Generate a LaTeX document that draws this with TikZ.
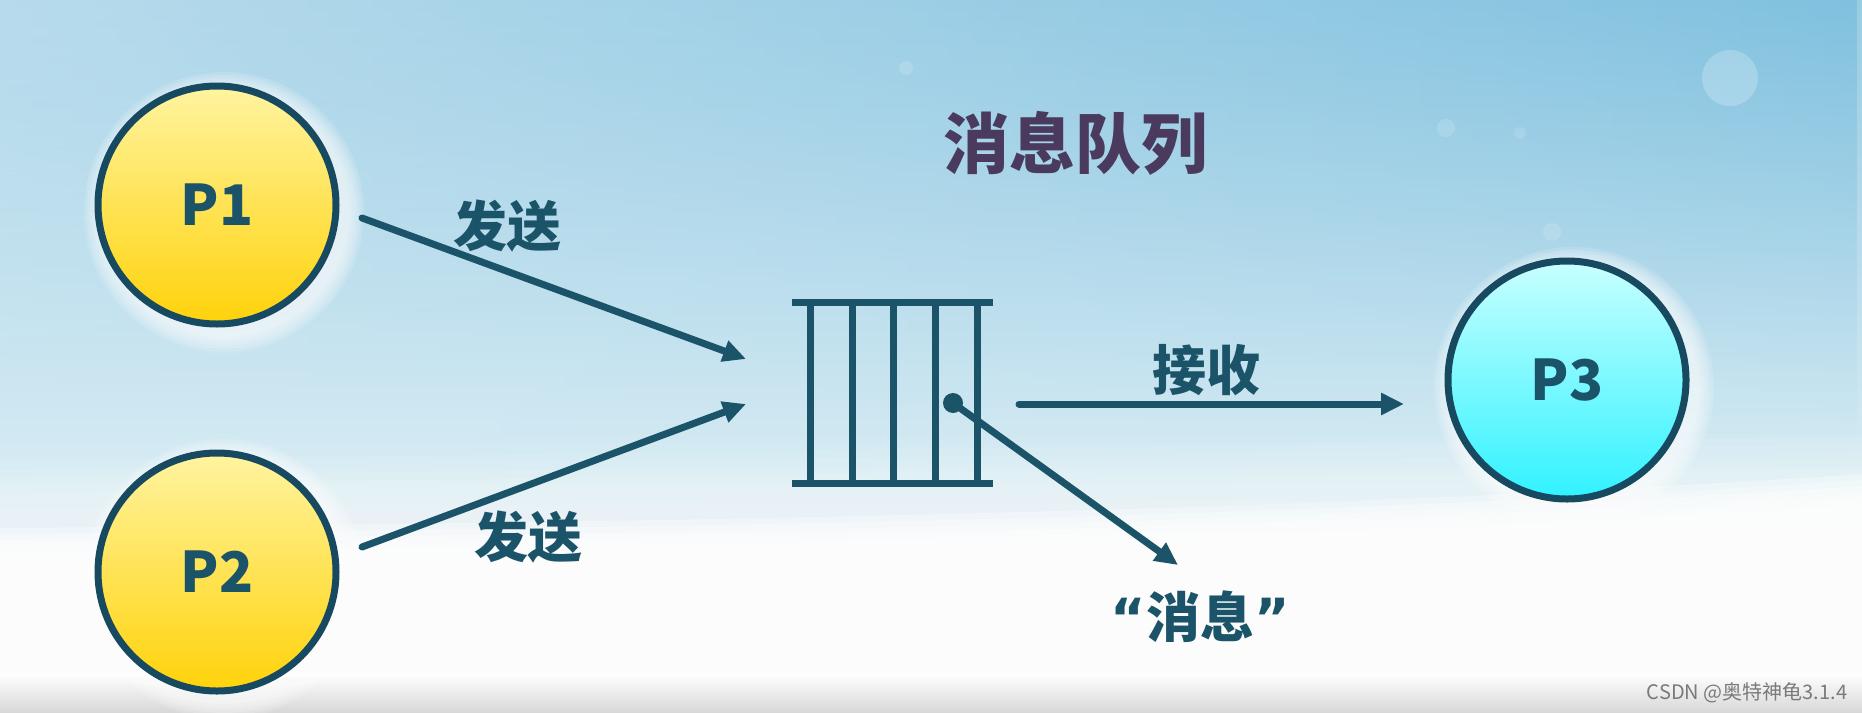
\documentclass[tikz,border=0pt]{standalone}
\usepackage{fontspec}
\setmainfont{Noto Sans CJK SC}
\newfontfamily\qfont{DejaVu Sans}
\usetikzlibrary{arrows.meta,shapes.geometric,fadings}
\definecolor{ink}{HTML}{1B5468}
\definecolor{rim}{HTML}{174A60}
\definecolor{titlec}{HTML}{4A3A5E}
\definecolor{ytop}{HTML}{FFF4A0}
\definecolor{ybot}{HTML}{FFD20A}
\definecolor{ctop}{HTML}{C8FFFF}
\definecolor{cbot}{HTML}{30F2FF}
\definecolor{bgA}{HTML}{D8D8D8}
\definecolor{bgB}{HTML}{EAF5F9}
\definecolor{bgC}{HTML}{D0E8F2}
\definecolor{bgD}{HTML}{A0D0E6}
\definecolor{bgE}{HTML}{72B8D8}
\definecolor{tintR}{HTML}{4AA8D4}
\definecolor{wm}{HTML}{7A7A7A}
\pgfdeclareverticalshading{skybg}{100bp}{color(0bp)=(bgA); color(5.5bp)=(white); color(24bp)=(white); color(34bp)=(bgB); color(45bp)=(bgC); color(70bp)=(bgD); color(100bp)=(bgE)}
\tikzfading[name=fadedown, top color=transparent!0, bottom color=transparent!100]
\tikzset{
  proc/.style={circle, draw=rim, line width=7pt, minimum size=238pt, inner sep=0pt,
    text=ink, font=\fontsize{56}{60}\selectfont\bfseries},
  lbl/.style={text=ink, inner sep=0pt, font=\fontsize{54}{60}\selectfont\bfseries},
  arr/.style={draw=ink, line width=7pt, line cap=round, -{Triangle[length=23pt,width=21pt]}},
  qline/.style={draw=ink, line width=7pt},
}
\begin{document}
\begin{tikzpicture}[x=1pt,y=-1pt]
\useasboundingbox (0,0) rectangle (1862,712);
% background
\shade[shading=skybg] (0,0) rectangle (1862,712);
\shade[left color=white, right color=tintR, opacity=0.3, path fading=fadedown] (0,0) rectangle (1862,440);
\foreach \d in {0,8,...,56}{
  \fill[white, opacity=0.07] (0,462+\d) .. controls (600,452+\d) and (1300,444+\d) .. (1862,436+\d) -- (1862,712) -- (0,712) -- cycle;
}
\foreach \d in {0,6,...,30}{
  \fill[white, opacity=0.3] (0,528+\d) .. controls (700,522+\d) and (1300,512+\d) .. (1862,474+\d) -- (1862,712) -- (0,712) -- cycle;
}
\shade[top color=white, bottom color=bgA] (0,673) rectangle (1862,712);
% bokeh
\fill[white, opacity=0.22] (1730,78) circle (28);
\fill[white, opacity=0.15] (906,68) circle (7);
\fill[white, opacity=0.15] (1446,128) circle (9);
\fill[white, opacity=0.12] (1520,133) circle (6);
\fill[white, opacity=0.15] (1552,232) circle (9);
% halos
\foreach \cx/\cy in {217/205, 217/572, 1567/380}{
  \foreach \k in {1,...,6}{
    \fill[white, opacity=0.15] (\cx+7,\cy+7) circle (122+3*\k);
  }
}
% title
\node[text=titlec, inner sep=0pt, font=\fontsize{66}{70}\selectfont\bfseries] (title) at (1075,143) {消息队列};
% processes
\node[proc, top color=ytop, bottom color=ybot] (p1) at (217,205) {P1};
\node[proc, top color=ytop, bottom color=ybot] (p2) at (217,572) {P2};
\node[proc, top color=ctop, bottom color=cbot] (p3) at (1567,380) {P3};
% queue
\node[inner sep=0pt, minimum width=201pt, minimum height=181pt] (q) at (892.5,392.5) {};
\draw[qline] (792,302) -- (993,302);
\draw[qline] (792,483) -- (993,483);
\foreach \x in {810,852,893,935,977}{
  \draw[qline] (\x,302) -- (\x,483);
}
\node[circle, fill=ink, minimum size=20pt, inner sep=0pt] (dot) at (953,403) {};
% connectors
\coordinate (s1) at (362,218);
\coordinate (e1) at (746,359);
\coordinate (s2) at (362,547);
\coordinate (e2) at (746,404);
\coordinate (rs) at (1019,404);
\coordinate (re) at (1404,404);
\coordinate (me) at (1178,565);
\draw[arr] (s1) -- (e1);
\draw[arr] (s2) -- (e2);
\draw[arr] (rs) -- (re);
\draw[arr] (dot.center) -- (me);
% labels
\node[lbl] (l1) at (507,226) {发送};
\node[lbl] (l2) at (528,537) {发送};
\node[lbl] (l3) at (1206,370) {接收};
\node[lbl] (l4) at (1200,617) {{\qfont\bfseries “}消息{\qfont\bfseries ”}};
% watermark
\node[text=wm, inner sep=0pt, font=\fontsize{20}{24}\selectfont] (wmk) at (1747,693) {CSDN @奥特神龟3.1.4};
\end{tikzpicture}
\end{document}
